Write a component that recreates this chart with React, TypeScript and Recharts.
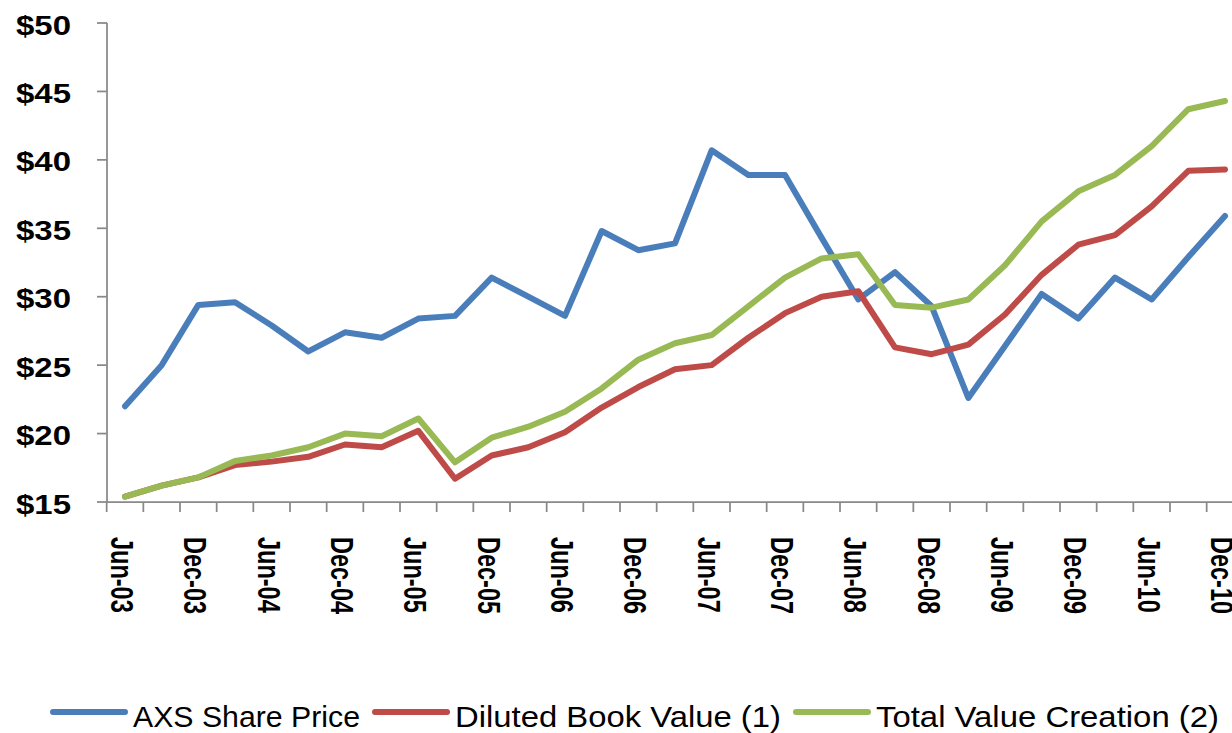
import React from 'react';
import { LineChart, Line, XAxis, YAxis, Legend } from 'recharts';

// quarterly points, Jun-03 .. Dec-10
const quarters = [
  'Jun-03', 'Sep-03', 'Dec-03', 'Mar-04', 'Jun-04', 'Sep-04', 'Dec-04', 'Mar-05',
  'Jun-05', 'Sep-05', 'Dec-05', 'Mar-06', 'Jun-06', 'Sep-06', 'Dec-06', 'Mar-07',
  'Jun-07', 'Sep-07', 'Dec-07', 'Mar-08', 'Jun-08', 'Sep-08', 'Dec-08', 'Mar-09',
  'Jun-09', 'Sep-09', 'Dec-09', 'Mar-10', 'Jun-10', 'Sep-10', 'Dec-10',
];

const sharePrice = [
  22.0, 25.0, 29.4, 29.6, 27.9, 26.0, 27.4, 27.0, 28.4, 28.6, 31.4, 30.0, 28.6, 34.8, 33.4, 33.9,
  40.7, 38.9, 38.9, 34.3, 29.8, 31.8, 29.3, 22.6, 26.4, 30.2, 28.4, 31.4, 29.8, 32.9, 35.9,
];

const bookValue = [
  15.4, 16.2, 16.8, 17.7, 17.95, 18.3, 19.2, 19.0, 20.2, 16.7, 18.4, 19.0, 20.1, 21.9, 23.4, 24.7,
  25.0, 27.0, 28.8, 30.0, 30.4, 26.3, 25.8, 26.5, 28.7, 31.6, 33.8, 34.5, 36.6, 39.2, 39.3,
];

const totalValue = [
  15.4, 16.2, 16.8, 18.0, 18.4, 19.0, 20.0, 19.8, 21.1, 17.9, 19.7, 20.5, 21.6, 23.3, 25.4, 26.6,
  27.2, 29.3, 31.4, 32.8, 33.1, 29.4, 29.2, 29.8, 32.3, 35.5, 37.7, 38.9, 41.0, 43.7, 44.3,
];

const yTicks = [15, 20, 25, 30, 35, 40, 45, 50];

const data = quarters.map((q, i) => ({
  quarter: q,
  share: sharePrice[i],
  book: bookValue[i],
  total: totalValue[i],
}));

const AXIS_GREY = '#898989';
const HALF_BAND = 18.33;
const FONT = '"Liberation Sans", Arial, sans-serif';

// tick marks sit between categories, labels only on Jun / Dec
const XTick = (props: any) => {
  const { x, y, index, payload } = props;
  return (
    <g>
      <line x1={x - HALF_BAND} y1={y} x2={x - HALF_BAND} y2={y + 10} stroke={AXIS_GREY} strokeWidth={1.75} />
      {index % 2 === 0 && (
        <text
          transform={`translate(${x - 14},${y + 35}) scale(1.3,1) rotate(90)`}
          fontFamily={FONT}
          fontWeight="bold"
          fontSize={23.5}
          fill="#000"
        >
          {payload.value}
        </text>
      )}
    </g>
  );
};

const YTick = ({ x, y, payload }: any) => (
  <text
    x={x - 55}
    y={y + 11.5}
    textLength={55}
    lengthAdjust="spacingAndGlyphs"
    fontFamily={FONT}
    fontWeight="bold"
    fontSize={27}
    fill="#000"
  >
    ${payload.value}
  </text>
);

const legendWidths: Record<string, number> = { share: 227, book: 326, total: 343 };

const LegendRow = ({ payload }: any) => {
  let x = 50;
  return (
    <svg width={1232} height={44} style={{ display: 'block' }}>
      {(payload || []).map((item: any) => {
        const start = x;
        const w = legendWidths[item.dataKey] || 250;
        x += 78 + 5 + w + 12;
        return (
          <g key={item.dataKey}>
            <line x1={start + 3} y1={22} x2={start + 75} y2={22} stroke={item.color} strokeWidth={6} strokeLinecap="round" />
            <text
              x={start + 83}
              y={37}
              textLength={w}
              lengthAdjust="spacingAndGlyphs"
              fontFamily={FONT}
              fontSize={29}
              fill="#000"
            >
              {item.value}
            </text>
          </g>
        );
      })}
    </svg>
  );
};

const App = () => {
  return (
    <div style={{ position: 'absolute', left: 0, top: 0, width: 1232, height: 733, overflow: 'hidden', background: '#fff' }}>
      <LineChart width={1260} height={733} data={data} margin={{ top: 23, right: 17, bottom: 0, left: 0 }}>
        <XAxis
          dataKey="quarter"
          interval={0}
          height={231}
          padding={{ left: 18, right: 18 }}
          tickLine={false}
          tickSize={0}
          tickMargin={0}
          tick={<XTick />}
          axisLine={{ stroke: AXIS_GREY, strokeWidth: 1.75 }}
        />
        <YAxis
          width={107}
          domain={[15, 50]}
          ticks={yTicks}
          interval={0}
          tickSize={10}
          tickMargin={26}
          tick={<YTick />}
          tickLine={{ stroke: AXIS_GREY, strokeWidth: 1.75 }}
          axisLine={{ stroke: AXIS_GREY, strokeWidth: 1.75 }}
        />
        <Legend
          layout="horizontal"
          verticalAlign="middle"
          align="center"
          content={<LegendRow />}
          wrapperStyle={{ position: 'absolute', left: 0, top: 690, width: 1232, height: 44 }}
        />
        <Line type="linear" dataKey="share" name="AXS Share Price" stroke="#4A7EBB" strokeWidth={6} strokeLinecap="round" strokeLinejoin="round" dot={false} activeDot={false} isAnimationActive={false} />
        <Line type="linear" dataKey="book" name="Diluted Book Value (1)" stroke="#BE4B48" strokeWidth={6} strokeLinecap="round" strokeLinejoin="round" dot={false} activeDot={false} isAnimationActive={false} />
        <Line type="linear" dataKey="total" name="Total Value Creation (2)" stroke="#98B954" strokeWidth={6} strokeLinecap="round" strokeLinejoin="round" dot={false} activeDot={false} isAnimationActive={false} />
      </LineChart>
    </div>
  );
};

export default App;
